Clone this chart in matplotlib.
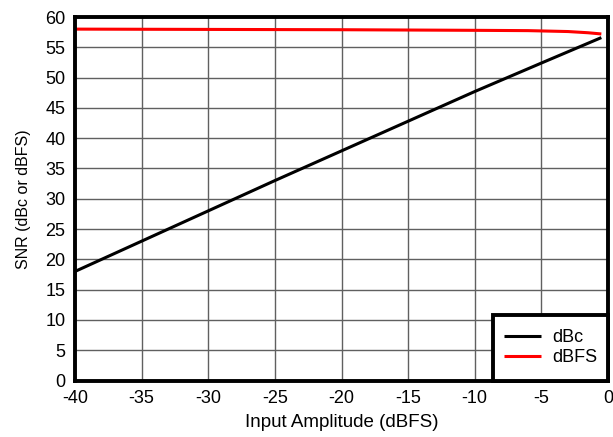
import matplotlib
matplotlib.use("Agg")
import matplotlib.pyplot as plt
from matplotlib.patches import Rectangle

plt.rcParams['font.family'] = ['Liberation Sans', 'DejaVu Sans']
plt.rcParams['axes.unicode_minus'] = False

x_dbc = [-40, -35, -30, -25, -20, -15, -10, -5, -0.5]
y_dbc = [18.0, 23.0, 28.0, 33.0, 37.9, 42.8, 47.7, 52.4, 56.6]
x_dbfs = [-40, -30, -20, -10, -6, -3, -1.5, -0.5]
y_dbfs = [58.0, 57.95, 57.9, 57.8, 57.75, 57.6, 57.4, 57.2]

fig = plt.figure(figsize=(6.13, 4.37), dpi=100)
ax = fig.add_axes([75/613, 1-380.5/437, 533/613, 363.5/437])
ax.plot(x_dbc, y_dbc, color='black', lw=2.2, label='dBc', solid_capstyle='butt')
ax.plot(x_dbfs, y_dbfs, color='#ff0000', lw=2.2, label='dBFS', solid_capstyle='butt')
ax.set_xlim(-40, 0)
ax.set_ylim(0, 60)
ax.set_xticks(range(-40, 1, 5))
ax.set_yticks(range(0, 61, 5))
ax.grid(True, color='#606060', lw=1)
ax.set_axisbelow(True)
ax.tick_params(length=0, labelsize=13, pad=7)
for s in ax.spines.values():
    s.set_linewidth(2.8)
ax.set_xlabel('Input Amplitude (dBFS)', fontsize=13.5, labelpad=5)
ax.set_ylabel('SNR (dBc or dBFS)', fontsize=11.5, labelpad=10)

# legend box
bx0 = (493-75)/533
by1 = (380.5-315)/363.5
ax.add_patch(Rectangle((bx0, 0), 1-bx0, by1, transform=ax.transAxes,
                       facecolor='white', edgecolor='black', lw=2.8, zorder=5, clip_on=False))
leg = ax.legend(loc='center', bbox_to_anchor=((bx0+1)/2, by1/2), fontsize=13,
                frameon=False, handlelength=2.1, handletextpad=0.6,
                labelspacing=0.15, borderpad=0)
leg.set_zorder(6)
fig.savefig('out.png', dpi=100)
